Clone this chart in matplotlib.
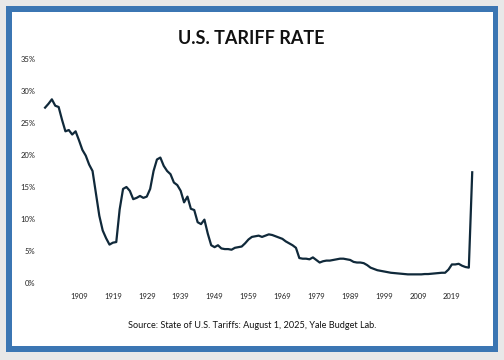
import numpy as np
import matplotlib
matplotlib.use("Agg")
import matplotlib.pyplot as plt
from matplotlib.patches import Rectangle

years = list(range(1899, 2026))
tariff = [
    27.4, 28.0, 28.7, 27.7, 27.5, 25.5, 23.7, 23.9, 23.2, 23.7,   # 1899-1908
    22.3, 20.8, 19.9, 18.5, 17.5, 14.0, 10.5, 8.2, 7.0, 6.0,      # 1909-1918
    6.3, 6.4, 11.5, 14.7, 15.0, 14.4, 13.1, 13.3, 13.6, 13.3,     # 1919-1928
    13.5, 14.7, 17.5, 19.3, 19.6, 18.3, 17.5, 17.0, 15.7, 15.3,   # 1929-1938
    14.4, 12.6, 13.5, 11.6, 11.4, 9.5, 9.2, 9.9, 7.7, 5.9,        # 1939-1948
    5.6, 5.9, 5.4, 5.3, 5.3, 5.2, 5.5, 5.6, 5.7, 6.2,             # 1949-1958
    6.8, 7.2, 7.3, 7.4, 7.2, 7.4, 7.6, 7.5, 7.3, 7.1,             # 1959-1968
    6.9, 6.5, 6.2, 5.9, 5.5, 3.9, 3.8, 3.8, 3.7, 4.0,             # 1969-1978
    3.6, 3.2, 3.4, 3.5, 3.5, 3.6, 3.7, 3.8, 3.8, 3.7,             # 1979-1988
    3.6, 3.3, 3.2, 3.2, 3.1, 2.8, 2.4, 2.2, 2.0, 1.9,             # 1989-1998
    1.8, 1.7, 1.6, 1.55, 1.5, 1.45, 1.4, 1.35, 1.35, 1.35,        # 1999-2008
    1.35, 1.35, 1.4, 1.4, 1.45, 1.5, 1.55, 1.6, 1.6, 2.1,         # 2009-2018
    2.9, 2.9, 3.0, 2.7, 2.5, 2.4, 17.3,                           # 2019-2025
]
tick_years = list(range(1909, 2020, 10))
y_ticks = [0, 5, 10, 15, 20, 25, 30, 35]

plt.rcParams["font.family"] = ["Lato", "DejaVu Sans"]

W, H = 504, 360
fig = plt.figure(figsize=(W / 100, H / 100), dpi=100)
fig.patch.set_facecolor("#e8e8e8")

# blue frame and white card, kept behind the axes
fig.patches.append(Rectangle((6 / W, 1 - 352 / H), 492 / W, 346 / H,
                             transform=fig.transFigure, facecolor="#3b76b3",
                             edgecolor="none", zorder=-2))
fig.patches.append(Rectangle((12 / W, 1 - 346 / H), 481 / W, 334 / H,
                             transform=fig.transFigure, facecolor="white",
                             edgecolor="none", zorder=-1))

ax = fig.add_axes([38.3 / W, 1 - 283 / H, (479.0 - 38.3) / W, (283 - 59) / H])
ax.set_facecolor("none")
ax.plot(years, tariff, color="#10293a", lw=1.6, solid_joinstyle="round")

ax.set_xlim(1897, 2027)
ax.set_ylim(0, 35)
ax.set_xticks(tick_years)
ax.set_xticklabels([str(y) for y in tick_years])
ax.set_yticks(y_ticks)
ax.set_yticklabels([f"{v}%" for v in y_ticks])
ax.tick_params(axis="both", length=0, labelsize=5.5, colors="#222222")
ax.tick_params(axis="x", pad=7)
ax.tick_params(axis="y", pad=2)
for s in ax.spines.values():
    s.set_visible(False)

fig.text(251.5 / W, 1 - 39 / H, "U.S. TARIFF RATE", ha="center", va="center",
         fontsize=13, fontweight="bold", color="#111111")
fig.text(252.5 / W, 1 - 326 / H,
         "Source: State of U.S. Tariffs: August 1, 2025, Yale Budget Lab.",
         ha="center", va="center", fontsize=6.6, color="#111111")

fig.savefig("out.png", dpi=100, facecolor=fig.get_facecolor())
